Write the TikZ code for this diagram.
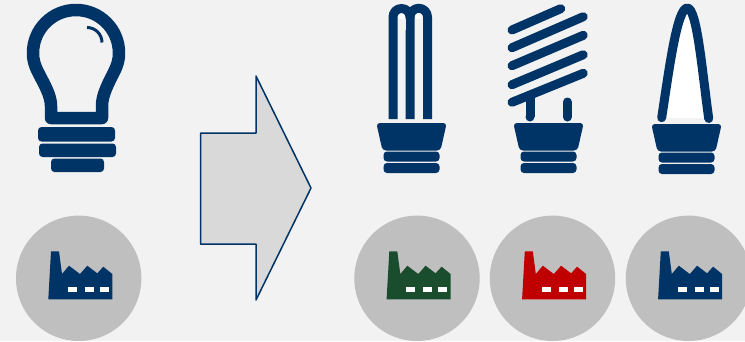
\documentclass[tikz,border=0pt]{standalone}
\usepackage{tikz}

\definecolor{navy}{HTML}{003366}
\definecolor{bgrey}{HTML}{F2F2F2}
\definecolor{cgrey}{HTML}{BFBFBF}
\definecolor{agrey}{HTML}{D9D9D9}
\definecolor{fgreen}{HTML}{1A4D2E}
\definecolor{fred}{HTML}{C00000}

\tikzset{
	tube/.style={draw=navy, line width=9pt},
	bar/.style={fill=navy, rounded corners=3.5pt},
	factory/.pic={
		\fill[pic actions] (-30.4,20.3) -- (-27.7,-27.7) -- (-19.7,-27.7) -- (-16.7,-5) -- (-9.7,-13.3)
			-- (1.3,-5) -- (8.6,-13.3) -- (18.6,-5.7) -- (24.6,-12.3) -- (33.6,-5) -- (33.6,20.3) -- cycle;
		\foreach \wx in {-10.7,6.3,21.3}
			\fill[white] (\wx,8) rectangle ++(9,5);
	},
	lampbase/.pic={
		\fill[bar] (-35.2,0) -- (35.2,0) -- (29,27.5) -- (-29,27.5) -- cycle;
		\fill[bar] (-28,28.5) rectangle (28,38.5);
		\fill[bar] (-28,40) rectangle (28,50);
	}
}

\begin{document}
\begin{tikzpicture}[x=1pt, y=-1pt, line join=round]
	\useasboundingbox (0,0) rectangle (745,341);
	\clip (0,0) rectangle (745,341);
	\fill[bgrey] (0,0) rectangle (745,341);

	% incandescent bulb
	\draw[navy, line width=12.5pt] (51,118) -- (51,106) .. controls (51,95) and (44,84) .. (38,72)
		.. controls (34.5,65) and (33,60) .. (33,53) arc[start angle=180, end angle=360, radius=43]
		.. controls (119,60) and (117.5,65) .. (114,72) .. controls (108,84) and (102,95) .. (102,106)
		-- (102,118) -- cycle;
	\draw[navy, line width=3pt] (87,27.5) arc[start angle=270, end angle=360, radius=15];
	\fill[bar] (38,127) rectangle (115,141.5);
	\fill[bar] (39,143.5) rectangle (116,157);
	\fill[bar] (51,158.5) rectangle (104,172);

	% arrow
	\draw[navy, fill=agrey, line width=1.5pt] (200.5,133) -- (256,133) -- (256,76) -- (311,188)
		-- (256,300) -- (256,244) -- (200.5,244) -- cycle;

	% compact lamp with tubes
	\fill[white] (401.5,16) circle[radius=4];
	\fill[white] (418.75,16) circle[radius=4];
	\draw[tube] (393,119) -- (393,17) arc[start angle=180, end angle=360, radius=8.5] -- (410,119);
	\draw[tube] (410,17) arc[start angle=180, end angle=360, radius=8.75] -- (427.5,119);
	\fill[bgrey] (397.5,19) rectangle (405.5,30);
	\fill[bgrey] (414.5,19) rectangle (423,30);
	\pic at (411.5,123) {lampbase};

	% compact lamp with spiral
	\foreach \sy/\ex/\ey in {30/560.7/8.7, 47.7/583.3/16.7, 65.7/583.3/35.3, 84.7/583.3/54.7, 102.3/583.3/73.3}
		\draw[tube, line cap=round] (512,\sy) -- (\ex,\ey);
	\draw[tube] (530,97) -- (530,117);
	\draw[tube, line cap=round] (567.3,102) -- (567.3,117);
	\fill[navy] (530,117) circle[radius=4.5];
	\pic at (548.5,123) {lampbase};

	% filament lamp
	\fill[white] (661.7,118) .. controls (669,70) and (677,8) .. (687.3,8)
		.. controls (697,8) and (702,70) .. (708.7,118) -- cycle;
	\draw[tube, line cap=round] (661.7,117.7) .. controls (669,70) and (677,8) .. (687.3,8)
		.. controls (697,8) and (702,70) .. (708.7,118.5);
	\pic at (686.5,124) {lampbase};

	% factories
	\foreach \cx/\col in {78.7/navy, 417/fgreen, 552.5/fred, 688.5/navy}{
		\fill[cgrey] (\cx,278.3) circle[radius=62.7];
		\pic[fill=\col] at (\cx,279) {factory};
	}
\end{tikzpicture}
\end{document}
